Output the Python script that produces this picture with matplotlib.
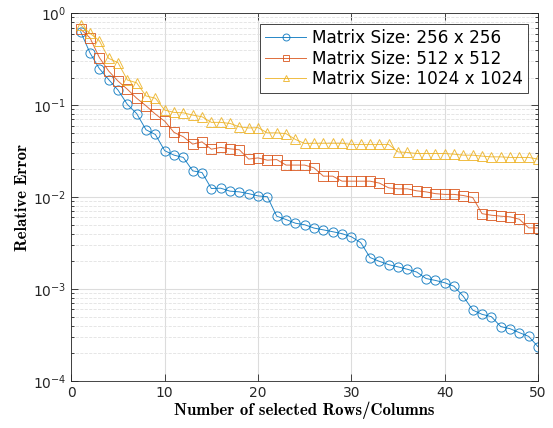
"""relative error vs number of selected rows/columns, three matrix sizes"""

import numpy as np
import matplotlib
matplotlib.use('Agg')
import matplotlib.pyplot as plt
from matplotlib.ticker import LogLocator, NullFormatter

n_sel = list(range(1, 51))

err_256 = [0.63, 0.37, 0.25, 0.19, 0.146, 0.102, 0.081, 0.054, 0.048, 0.032,
           0.0286, 0.027, 0.0193, 0.0185, 0.0124, 0.0125, 0.0116, 0.0114, 0.0109, 0.0103,
           0.0101, 0.0062, 0.0057, 0.0052, 0.0050, 0.0046, 0.0044, 0.0042, 0.0040, 0.0037,
           0.0032, 0.0022, 0.0020, 0.00184, 0.00174, 0.00164, 0.00153, 0.00130, 0.00124, 0.00117,
           0.00107, 0.00083, 0.00059, 0.00053, 0.00050, 0.00039, 0.00037, 0.000335, 0.000305, 0.000235]

err_512 = [0.67, 0.54, 0.33, 0.235, 0.183, 0.149, 0.119, 0.0985, 0.080, 0.067,
           0.0506, 0.0453, 0.0377, 0.0399, 0.0332, 0.0347, 0.0335, 0.0327, 0.0259, 0.0267,
           0.0252, 0.0256, 0.0223, 0.0223, 0.0223, 0.0208, 0.0169, 0.0169, 0.0149, 0.0149,
           0.0149, 0.0149, 0.0142, 0.0126, 0.0123, 0.0123, 0.0117, 0.0114, 0.0109, 0.0107,
           0.0107, 0.0104, 0.0099, 0.0066, 0.00635, 0.0062, 0.0061, 0.00574, 0.00462, 0.00462]

err_1024 = [0.746, 0.605, 0.503, 0.323, 0.290, 0.188, 0.175, 0.126, 0.119, 0.0885,
            0.0834, 0.0826, 0.078, 0.0748, 0.065, 0.065, 0.0633, 0.0582, 0.0565, 0.057,
            0.0500, 0.0500, 0.0490, 0.0424, 0.0383, 0.0385, 0.0385, 0.0385, 0.0385, 0.0374,
            0.0374, 0.0374, 0.0374, 0.0374, 0.031, 0.0306, 0.0298, 0.0298, 0.0298, 0.0298,
            0.0293, 0.0286, 0.0286, 0.0279, 0.0274, 0.0274, 0.027, 0.027, 0.027, 0.0259]

labels = ['Matrix Size: 256 x 256', 'Matrix Size: 512 x 512', 'Matrix Size: 1024 x 1024']
colors = ['#0072BD', '#D95319', '#EDB120']
markers = ['o', 's', '^']

fig = plt.figure(figsize=(5.53, 4.28), dpi=100)
ax = fig.add_axes([0.129, 0.110, 0.844, 0.859])

for y, lab, c, m in zip([err_256, err_512, err_1024], labels, colors, markers):
    ax.plot(n_sel, y, color=c, marker=m, markerfacecolor='none',
            markersize=6.6, markeredgewidth=0.7, linewidth=0.7, alpha=0.85, label=lab)

ax.set_yscale('log')
ax.set_xlim(0, 50)
ax.set_ylim(1e-4, 1)
ax.set_xticks([0, 10, 20, 30, 40, 50])
ax.yaxis.set_major_locator(LogLocator(base=10, numticks=10))
ax.yaxis.set_minor_locator(LogLocator(base=10, subs=np.arange(2, 10), numticks=10))
ax.yaxis.set_minor_formatter(NullFormatter())

# matlab style grid: solid major, dashed minor
ax.grid(which='major', color='#dcdcdc', linewidth=0.8, linestyle='-')
ax.grid(which='minor', axis='y', color='#e2e2e2', linewidth=0.6, linestyle='--')
ax.set_axisbelow(True)

ax.tick_params(which='both', direction='in', top=True, right=True,
               labelsize=10, colors='#262626', width=0.6)
ax.tick_params(which='major', length=5)
ax.tick_params(which='minor', length=2.5)
for sp in ax.spines.values():
    sp.set_color('#262626')
    sp.set_linewidth(0.6)

ax.set_xlabel('Number of selected Rows/Columns', fontfamily='cmb10', fontsize=12, labelpad=1)
ax.set_ylabel('Relative Error', fontfamily='cmb10', fontsize=12, labelpad=2)

leg = ax.legend(loc='upper right', fontsize=12.2, handlelength=2.4, handletextpad=0.35,
                fancybox=False, framealpha=1, edgecolor='#262626', borderpad=0.3,
                labelspacing=0.15, borderaxespad=0.0,
                bbox_to_anchor=(0.978, 0.971))
leg.get_frame().set_linewidth(0.6)
for h in leg.legend_handles:
    h.set_markersize(5)

fig.savefig('out.png', dpi=100)
